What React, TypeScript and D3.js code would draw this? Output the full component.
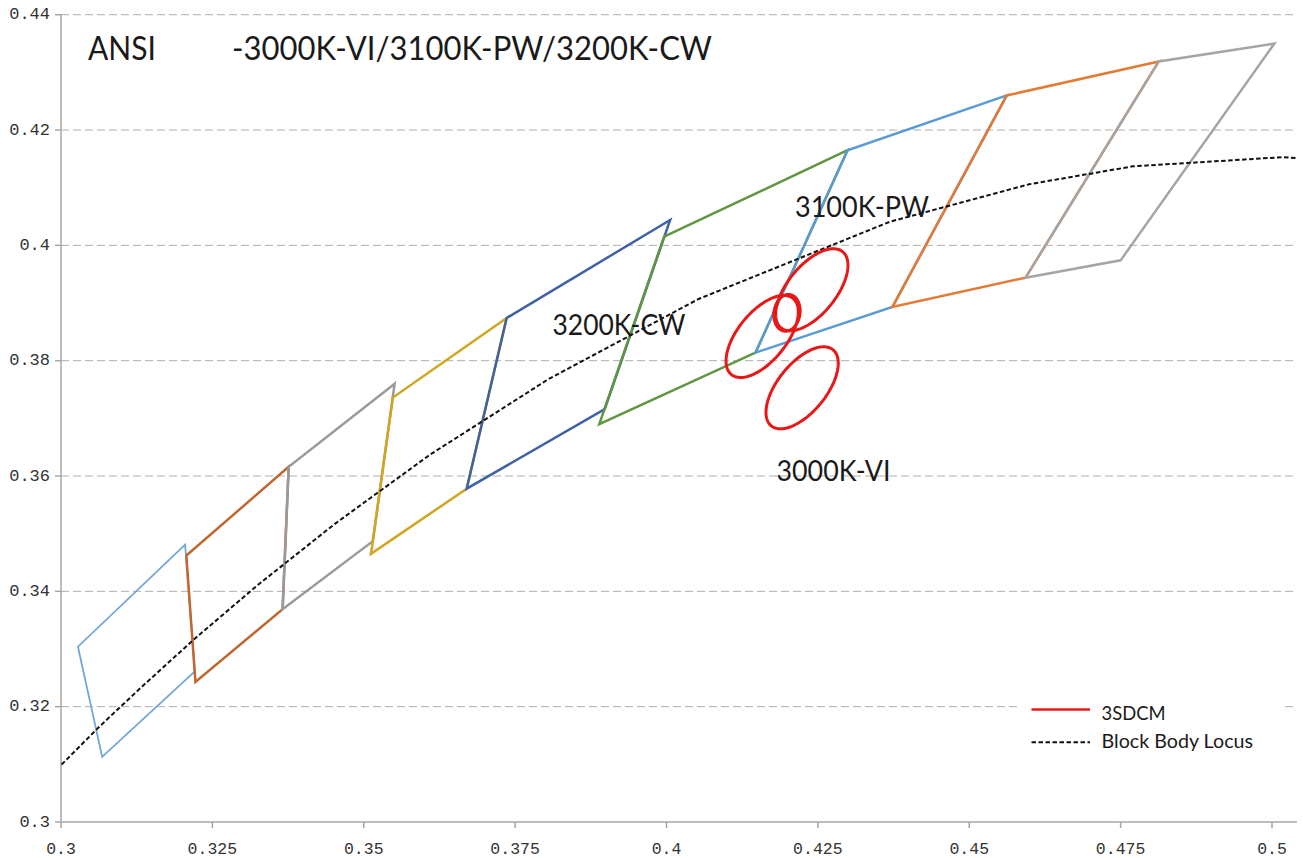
import React from "react";
import * as d3 from "d3";

// ---------- data ----------
const xTicks = [0.3, 0.325, 0.35, 0.375, 0.4, 0.425, 0.45, 0.475, 0.5];
const xTickLabels = ["0.3", "0.325", "0.35", "0.375", "0.4", "0.425", "0.45", "0.475", "0.5"];
const yTicks = [0.3, 0.32, 0.34, 0.36, 0.38, 0.4, 0.42, 0.44];
const yTickLabels = ["0.3", "0.32", "0.34", "0.36", "0.38", "0.4", "0.42", "0.44"];

// ANSI quadrangles (CIE 1931 x, y corners)
const quadNames = ["6500K", "5700K", "5000K", "4500K", "4000K", "3500K", "3000K", "2700K", "2500K"];
const q6500K: [number, number][] = [[0.3205, 0.3481], [0.3028, 0.3304], [0.3068, 0.3113], [0.3221, 0.3261]];
const q5700K: [number, number][] = [[0.3376, 0.3616], [0.3207, 0.3462], [0.3222, 0.3243], [0.3366, 0.3369]];
const q5000K: [number, number][] = [[0.3551, 0.376], [0.3376, 0.3616], [0.3366, 0.3369], [0.3515, 0.3487]];
const q4500K: [number, number][] = [[0.3736, 0.3874], [0.3548, 0.3736], [0.3512, 0.3465], [0.367, 0.3578]];
const q4000K: [number, number][] = [[0.4006, 0.4044], [0.3736, 0.3874], [0.367, 0.3578], [0.3898, 0.3716]];
const q3500K: [number, number][] = [[0.4299, 0.4165], [0.3996, 0.4015], [0.3889, 0.369], [0.4147, 0.3814]];
const q3000K: [number, number][] = [[0.4562, 0.426], [0.4299, 0.4165], [0.4147, 0.3814], [0.4373, 0.3893]];
const q2700K: [number, number][] = [[0.4813, 0.4319], [0.4562, 0.426], [0.4373, 0.3893], [0.4593, 0.3944]];
const q2500K: [number, number][] = [[0.5004, 0.435], [0.4813, 0.4319], [0.4593, 0.3944], [0.475, 0.3974]];
const quads = [q6500K, q5700K, q5000K, q4500K, q4000K, q3500K, q3000K, q2700K, q2500K];

// Black body (Planckian) locus
const locusX = [0.2952, 0.3064, 0.3135, 0.3221, 0.3325, 0.3451, 0.3608, 0.3805, 0.4053, 0.4369, 0.4599, 0.477, 0.5018, 0.5266];
const locusY = [0.3048, 0.3166, 0.3236, 0.3318, 0.3411, 0.3516, 0.3636, 0.3768, 0.3907, 0.4041, 0.4106, 0.4137, 0.4153, 0.4133];

// 3SDCM ellipses: centre, semi-axes, rotation (deg)
const ellipseCx = [0.424, 0.4199, 0.4158, 0.4224];
const ellipseCy = [0.3923, 0.3883, 0.3842, 0.3753];
const ellipseA = [0.00834, 0.0032, 0.00834, 0.00834];
const ellipseB = [0.00408, 0.00215, 0.00408, 0.00408];
const ellipseTheta = [53.22, 82, 53.22, 53.22];

// ---------- styles ----------
const quadColors = ["#72A7D8", "#C0672F", "#9A9A9A", "#D2A51E", "#3F62A6", "#5E973F", "#5B9BD5", "#E47B34", "#A5A5A5"];
const quadWidths = [1.8, 2.5, 2.5, 2.5, 2.5, 2.5, 2.5, 2.5, 2.5];

export default function App() {
  const W = 1303;
  const H = 858;
  const left = 61;
  const right = 1297;
  const top = 14.7;
  const bottom = 822;

  const x = d3.scaleLinear().domain([0.3, 0.5]).range([left, 1272]);
  const y = d3.scaleLinear().domain([0.3, 0.44]).range([bottom, top]);

  const line = d3
    .line<[number, number]>()
    .x((d) => x(d[0]))
    .y((d) => y(d[1]));

  const locusPts: [number, number][] = locusX.map((v, i) => [v, locusY[i]]);

  const ellipsePath = (i: number) => {
    const th = (ellipseTheta[i] * Math.PI) / 180;
    const pts: [number, number][] = d3.range(0, 360, 3).map((deg) => {
      const t = (deg * Math.PI) / 180;
      const ex = ellipseA[i] * Math.cos(t);
      const ey = ellipseB[i] * Math.sin(t);
      return [
        ellipseCx[i] + ex * Math.cos(th) - ey * Math.sin(th),
        ellipseCy[i] + ex * Math.sin(th) + ey * Math.cos(th),
      ];
    });
    return line.curve(d3.curveLinearClosed)(pts) as string;
  };

  const axisColor = "#A6A6A6";
  const tickFont = "'Liberation Mono', 'DejaVu Sans Mono', monospace";
  const labelFont = "Lato, 'Open Sans', sans-serif";
  const textColor = "#1a1a1a";

  return (
    <svg
      width={W}
      height={H}
      style={{ position: "absolute", left: 0, top: 0, display: "block", background: "#fff" }}
    >
      <defs>
        <clipPath id="plot">
          <rect x={left} y={top - 2} width={right - left} height={bottom - top + 2} />
        </clipPath>
      </defs>
      <rect x={0} y={0} width={W} height={H} fill="#fff" />

      {/* gridlines */}
      {yTicks.slice(1).map((t) => (
        <line
          key={"g" + t}
          x1={left}
          x2={right}
          y1={y(t)}
          y2={y(t)}
          stroke="#AFAFAF"
          strokeWidth={1}
          strokeDasharray="8,4"
        />
      ))}

      {/* axes */}
      <line x1={left} x2={left} y1={top} y2={bottom} stroke={axisColor} strokeWidth={1.5} />
      <line x1={left} x2={right} y1={bottom} y2={bottom} stroke={axisColor} strokeWidth={1.5} />
      {yTicks.map((t, i) => (
        <g key={"yt" + t}>
          <line x1={left - 6} x2={left} y1={y(t)} y2={y(t)} stroke={axisColor} strokeWidth={1.5} />
          <text
            x={50}
            y={y(t)}
            textAnchor="end"
            dominantBaseline="central"
            fontFamily={tickFont}
            fontSize={17}
            fill="#333"
          >
            {yTickLabels[i]}
          </text>
        </g>
      ))}
      {xTicks.map((t, i) => (
        <g key={"xt" + t}>
          <line x1={x(t)} x2={x(t)} y1={bottom} y2={bottom + 6} stroke={axisColor} strokeWidth={1.5} />
          <text
            x={x(t)}
            y={849}
            textAnchor="middle"
            dominantBaseline="central"
            fontFamily={tickFont}
            fontSize={16.5}
            fill="#333"
          >
            {xTickLabels[i]}
          </text>
        </g>
      ))}

      <g clipPath="url(#plot)">
        {/* ANSI quadrangles */}
        {quads.map((q, i) => (
          <path
            key={quadNames[i]}
            d={line.curve(d3.curveLinearClosed)(q) as string}
            fill="none"
            stroke={quadColors[i]}
            strokeWidth={quadWidths[i]}
            strokeLinejoin="miter"
          />
        ))}

        {/* black body locus */}
        <path
          d={line.curve(d3.curveLinear)(locusPts) as string}
          fill="none"
          stroke="#111"
          strokeWidth={2}
          strokeDasharray="4.5,2.5"
        />

        {/* 3SDCM ellipses */}
        {ellipseCx.map((_, i) => (
          <path key={"e" + i} d={ellipsePath(i)} fill="none" stroke="#E81818" strokeWidth={3} />
        ))}
      </g>

      {/* titles and annotations */}
      <text x={88} y={60} fontFamily={labelFont} fontSize={32} fill={textColor} textLength={68} lengthAdjust="spacingAndGlyphs">
        ANSI
      </text>
      <text x={232} y={60} fontFamily={labelFont} fontSize={32} fill={textColor} textLength={480} lengthAdjust="spacingAndGlyphs">
        -3000K-VI/3100K-PW/3200K-CW
      </text>
      <text x={552.5} y={334.5} fontFamily={labelFont} fontSize={29} fill={textColor} textLength={133} lengthAdjust="spacingAndGlyphs">
        3200K-CW
      </text>
      <text x={795} y={217} fontFamily={labelFont} fontSize={29} fill={textColor} textLength={134} lengthAdjust="spacingAndGlyphs">
        3100K-PW
      </text>
      <text x={776.5} y={481} fontFamily={labelFont} fontSize={29} fill={textColor} textLength={114} lengthAdjust="spacingAndGlyphs">
        3000K-VI
      </text>

      {/* legend */}
      <rect x={1020} y={694} width={262} height={66} fill="#fff" />
      <line x1={1031.5} x2={1090} y1={709.5} y2={709.5} stroke="#E81818" strokeWidth={2.5} />
      <text x={1101.5} y={720} fontFamily={labelFont} fontSize={18.5} fill={textColor} textLength={64} lengthAdjust="spacingAndGlyphs">
        3SDCM
      </text>
      <line x1={1031.5} x2={1090} y1={742.3} y2={742.3} stroke="#111" strokeWidth={2} strokeDasharray="4.5,2.5" />
      <text x={1101.5} y={748.3} fontFamily={labelFont} fontSize={18.5} fill={textColor} textLength={151.5} lengthAdjust="spacingAndGlyphs">
        Block Body Locus
      </text>
    </svg>
  );
}
